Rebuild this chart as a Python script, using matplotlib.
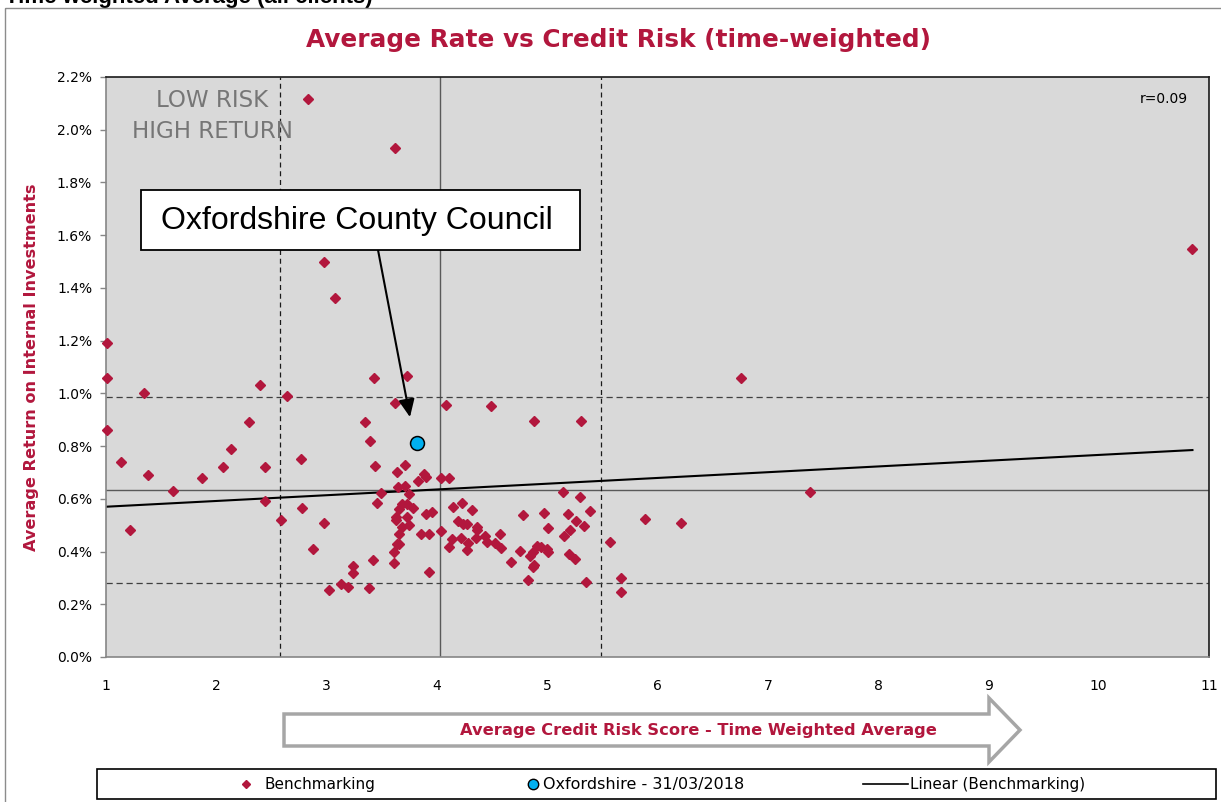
import matplotlib
matplotlib.use('Agg')
import matplotlib.pyplot as plt
from matplotlib.patches import Rectangle, Polygon
from matplotlib.ticker import FuncFormatter

# ---------------- data ----------------
bench_x = [1.01, 1.01, 1.01, 1.14, 1.22, 1.34, 1.38, 1.61, 1.87, 2.06,
           2.13, 2.30, 2.40, 2.44, 2.44, 2.64, 2.59, 2.77, 2.78, 2.83,
           2.88, 2.98, 2.98, 3.02, 3.08, 3.13, 3.19, 3.24, 3.24, 3.38,
           3.42, 3.62, 3.43, 3.73, 3.62, 4.08, 4.49, 3.35, 4.88, 5.31,
           3.39, 3.44, 3.71, 3.64, 3.88, 3.90, 3.83, 4.04, 4.11, 3.65,
           3.71, 3.49, 3.75, 5.14, 5.30, 3.46, 3.68, 3.73, 3.78, 3.66,
           4.23, 4.15, 4.32, 5.39, 3.90, 3.96, 3.63, 3.63, 3.73, 4.78,
           4.97, 5.19, 3.75, 3.68, 4.19, 4.24, 4.27, 5.26, 5.33, 4.36,
           4.36, 5.01, 5.21, 5.89, 3.66, 3.86, 3.93, 4.04, 4.22, 4.14,
           4.44, 4.57, 5.15, 4.35, 4.45, 4.53, 3.64, 3.66, 4.28, 4.58,
           5.57, 4.11, 4.91, 4.94, 5.00, 5.01, 4.27, 4.87, 4.84, 3.61,
           4.75, 5.20, 5.25, 4.67, 4.88, 4.87, 3.61, 3.93, 4.83, 5.35,
           5.67, 5.67, 6.21, 6.76, 7.38, 10.85]
bench_y = [1.19, 1.06, 0.86, 0.74, 0.48, 1.00, 0.69, 0.63, 0.68, 0.72,
           0.79, 0.89, 1.03, 0.72, 0.59, 0.99, 0.52, 0.75, 0.565, 2.115,
           0.41, 1.497, 0.51, 0.255, 1.36, 0.276, 0.266, 0.346, 0.319, 0.263,
           0.368, 1.93, 1.059, 1.066, 0.965, 0.956, 0.952, 0.891, 0.895, 0.895,
           0.819, 0.726, 0.730, 0.702, 0.695, 0.683, 0.669, 0.679, 0.679, 0.646,
           0.648, 0.621, 0.620, 0.626, 0.608, 0.586, 0.582, 0.582, 0.564, 0.562,
           0.584, 0.569, 0.559, 0.553, 0.541, 0.551, 0.531, 0.520, 0.530, 0.539,
           0.547, 0.544, 0.501, 0.492, 0.517, 0.506, 0.504, 0.514, 0.498, 0.495,
           0.483, 0.489, 0.480, 0.522, 0.466, 0.465, 0.465, 0.477, 0.453, 0.447,
           0.459, 0.465, 0.459, 0.453, 0.437, 0.432, 0.429, 0.429, 0.432, 0.415,
           0.437, 0.417, 0.422, 0.416, 0.411, 0.398, 0.406, 0.399, 0.384, 0.398,
           0.401, 0.390, 0.371, 0.361, 0.349, 0.341, 0.355, 0.322, 0.292, 0.286,
           0.298, 0.245, 0.507, 1.058, 0.626, 1.548]

oxford_x = [3.82]
oxford_y = [0.81]

trend_x = [1.0, 10.85]
trend_y = [0.570, 0.785]

mean_x = 4.03
sd_lines_x = [2.58, 5.49]
mean_y = 0.633
sd_lines_y = [0.986, 0.281]

x_ticks = list(range(1, 12))
y_ticks = [0.0, 0.2, 0.4, 0.6, 0.8, 1.0, 1.2, 1.4, 1.6, 1.8, 2.0, 2.2]

r_text = "r=0.09"
title = "Average Rate vs Credit Risk (time-weighted)"
header = "Time weighted Average (all clients)"
xlabel = "Average Credit Risk Score - Time Weighted Average"
ylabel = "Average Return on Internal Investments"
legend_labels = ["Benchmarking", "Oxfordshire - 31/03/2018", "Linear (Benchmarking)"]

# ---------------- style ----------------
CRIMSON = '#B2173D'
CYAN = '#00B0F0'
W, H = 1221, 802
plt.rcParams['font.family'] = ['DejaVu Sans']

fig = plt.figure(figsize=(W / 100, H / 100), dpi=100)
fig.patch.set_facecolor('white')

L, R, T, B = 106, 1209, 77, 657
ax = fig.add_axes([L / W, (H - B) / H, (R - L) / W, (B - T) / H])
ax.set_facecolor('#D9D9D9')
ax.set_xlim(1, 11)
ax.set_ylim(0, 2.2)
ax.set_xticks(x_ticks)
ax.set_yticks(y_ticks)
ax.yaxis.set_major_formatter(FuncFormatter(lambda v, p: f"{v:.1f}%"))
ax.tick_params(axis='y', direction='out', length=4, width=1, color='#868686',
               labelsize=10, pad=6)
ax.tick_params(axis='x', direction='out', length=0, labelsize=10, pad=16)
for s in ['top', 'right']:
    ax.spines[s].set_color('#1A1A1A')
    ax.spines[s].set_linewidth(1.2)
for s in ['left', 'bottom']:
    ax.spines[s].set_color('#868686')
    ax.spines[s].set_linewidth(1.2)

# reference lines
ax.axvline(mean_x, color='#595959', lw=1.0, zorder=1)
ax.axhline(mean_y, color='#595959', lw=1.0, zorder=1)
for xv in sd_lines_x:
    ax.axvline(xv, color='#1A1A1A', lw=0.9, ls=(0, (4, 3)), zorder=1)
for yv in sd_lines_y:
    ax.axhline(yv, color='#404040', lw=0.9, ls=(0, (5, 3)), zorder=1)

# trend
ax.plot(trend_x, trend_y, color='black', lw=1.5, zorder=2)

# points
ax.plot(bench_x, bench_y, ls='none', marker='D', ms=4.6, color=CRIMSON,
        mec=CRIMSON, zorder=3, clip_on=False)
ax.plot(oxford_x, oxford_y, ls='none', marker='o', ms=10, color=CYAN,
        mec='black', mew=1.1, zorder=4)

# callout arrow
ax.annotate('', xy=(3.756, 0.910), xytext=(3.466, 1.544),
            arrowprops=dict(arrowstyle='-|>,head_length=0.6,head_width=0.27',
                            color='black', lw=1.5, mutation_scale=18,
                            shrinkA=0, shrinkB=0), zorder=5)

# ---------------- overlay (pixel coords) ----------------
ov = fig.add_axes([0, 0, 1, 1], zorder=10)
ov.set_xlim(0, W)
ov.set_ylim(H, 0)
ov.axis('off')
ov.patch.set_visible(False)

# outer chart border
ov.add_patch(Rectangle((5, 8), W + 10, H, fill=False, ec='#8C8C8C', lw=1.0))

# header (cut off at top edge as in the source) and title
fig.text(5 / W, 1 - 3 / H, header, fontsize=16, fontweight='bold',
         family='Liberation Sans', va='baseline', ha='left', color='black')
ov.text(618, 40, title, fontsize=17.8, fontweight='bold', color=CRIMSON,
        ha='center', va='center')

# y label
ov.text(32, 367, ylabel, rotation=90, fontsize=11.6, fontweight='bold',
        color=CRIMSON, ha='center', va='center')

# low risk text
ov.text(212, 116, "LOW RISK\nHIGH RETURN", fontsize=16.6, color='#767676',
        ha='center', va='center', multialignment='center', linespacing=1.4)

# r value
ov.text(1188, 99, r_text, fontsize=10, color='black', ha='right', va='center')

# callout box
ov.add_patch(Rectangle((141, 190), 439, 60, fc='white', ec='black', lw=1.3))
ov.text(357, 221, "Oxfordshire County Council", fontsize=23,
        family='Liberation Sans', color='black', ha='center', va='center')

# big x-axis arrow
arrow_pts = [(284, 714), (989, 714), (989, 698), (1020, 730), (989, 762),
             (989, 746), (284, 746)]
ov.add_patch(Polygon(arrow_pts, closed=True, fc='white', ec='#A6A6A6', lw=2.5))
ov.text(698, 731, xlabel, fontsize=11.7, fontweight='bold', color=CRIMSON,
        ha='center', va='center')

# legend
ov.add_patch(Rectangle((97, 769), 1119, 30, fc='white', ec='black', lw=1.2))
ov.plot([246], [784], ls='none', marker='D', ms=4, color=CRIMSON)
ov.text(265, 784, legend_labels[0], fontsize=11, ha='left', va='center')
ov.plot([533], [784], ls='none', marker='o', ms=7.5, color=CYAN, mec='black', mew=1)
ov.text(543, 784, legend_labels[1], fontsize=11.5, ha='left', va='center')
ov.plot([863, 908], [784, 784], color='black', lw=1.2)
ov.text(910, 784, legend_labels[2], fontsize=11, ha='left', va='center')

fig.savefig('out.png', dpi=100)
